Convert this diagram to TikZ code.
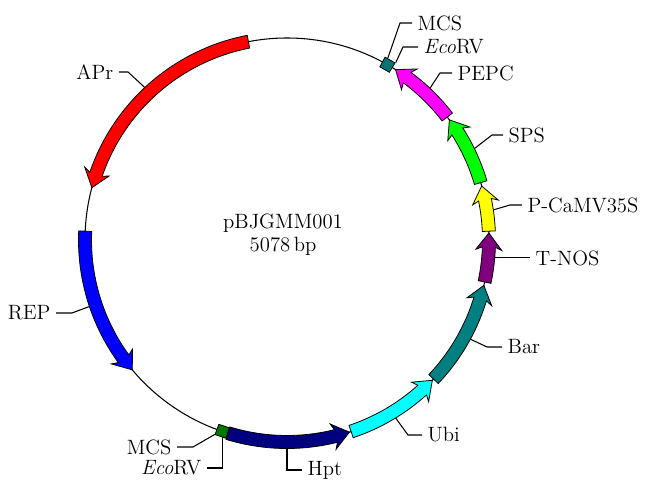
\documentclass[tikz,border=0pt]{standalone}
\usetikzlibrary{calc}

\definecolor{aprred}{RGB}{255,0,0}
\definecolor{repblue}{RGB}{0,0,255}
\definecolor{hptnavy}{RGB}{0,0,128}
\definecolor{ubicyan}{RGB}{0,255,255}
\definecolor{barteal}{RGB}{0,128,128}
\definecolor{nospurple}{RGB}{128,0,128}
\definecolor{camvyellow}{RGB}{255,255,0}
\definecolor{spsgreen}{RGB}{0,255,0}
\definecolor{pepcmagenta}{RGB}{255,0,255}
\definecolor{mcsteal}{RGB}{0,115,115}
\definecolor{mcsgreen}{RGB}{0,120,0}

% gene arrow on the ring: fill, start angle, tip angle
\newcommand{\genearrow}[3]{%
  \pgfmathsetmacro{\hbase}{#3>#2 ? #3-4 : #3+4}%
  \pgfmathsetmacro{\hbarb}{#3>#2 ? #3-4.8 : #3+4.8}%
  \draw[gene,fill=#1] (#2:208.5) arc[start angle=#2,end angle=\hbase,radius=208.5]
    -- (\hbarb:215) -- (#3:202) -- (\hbarb:189) -- (\hbase:195.5)
    arc[start angle=\hbase,end angle=#2,radius=195.5] -- cycle;}

% small site box on the ring: fill, angle
\newcommand{\sitebox}[2]{%
  \draw[gene,fill=#1] (#2-1.6:196.5) -- (#2+1.6:196.5) -- (#2+1.6:207.5)
    -- (#2-1.6:207.5) -- cycle;}

\begin{document}
\begin{tikzpicture}[x=0.02cm,y=0.02cm,
    gene/.style={draw=black,line width=0.45pt,line join=miter},
    leader/.style={draw=black,line width=0.6pt},
    every node/.style={font=\fontsize{11.8}{14}\selectfont,inner sep=3pt}]

      \useasboundingbox (0,0) rectangle (651,496);

      % Ring and genes
      \begin{scope}[shift={(287,256)}]
        \draw[line width=0.6pt] (0,0) circle[radius=202];
        \coordinate (ctr) at (0,0);

        \genearrow{aprred}{101}{165}
        \genearrow{repblue}{177.5}{220}
        \genearrow{hptnavy}{-107}{-72}
        \genearrow{ubicyan}{-71.5}{-44}
        \genearrow{barteal}{-43.5}{-13}
        \genearrow{nospurple}{-12}{2}
        \genearrow{camvyellow}{2.5}{15.5}
        \genearrow{spsgreen}{16.5}{36.5}
        \genearrow{pepcmagenta}{37.5}{57.5}
        \sitebox{mcsteal}{60.2}
        \sitebox{mcsgreen}{-108.7}

        % where the leaders start
        \coordinate (mcsApt) at (61:208);
        \coordinate (ecoApt) at (58.5:208);
        \coordinate (pepcpt) at (46.7:208.5);
        \coordinate (spspt) at (26:208.5);
        \coordinate (camvpt) at (8.3:208.5);
        \coordinate (nospt) at (-4.9:208.5);
        \coordinate (barpt) at (-28.4:208.5);
        \coordinate (ubipt) at (-58.6:208.5);
        \coordinate (hptpt) at (-90:208.5);
        \coordinate (mcsBpt) at (-110.4:207.5);
        \coordinate (ecoBpt) at (-108.2:207.5);
        \coordinate (reppt) at (198.6:208.5);
        \coordinate (aprpt) at (133:208.5);
      \end{scope}

      % Nodes
      \node (name) at (283,273) {pBJGMM001};
      \node (size) at (283,250) {5078\,bp};

      \begin{scope}[every node/.append style={anchor=west}]
        \node (mcsA) at (412,473) {MCS};
        \node (ecoA) at (418,449) {\textit{Eco}RV};
        \node (pepc) at (452,423) {PEPC};
        \node (sps) at (503,361) {SPS};
        \node (camv) at (522,291) {P-CaMV35S};
        \node (nos) at (530,238) {T-NOS};
        \node (bar) at (502,149) {Bar};
        \node (ubi) at (422,61) {Ubi};
        \node (hpt) at (302,26) {Hpt};
      \end{scope}
      \begin{scope}[every node/.append style={anchor=east}]
        \node (mcsB) at (177,49) {MCS};
        \node (ecoB) at (207,28) {\textit{Eco}RV};
        \node (rep) at (56,183) {REP};
        \node (apr) at (119,424) {APr};
      \end{scope}

      % Leaders
      \begin{scope}[every path/.style={leader}]
        \path (mcsApt) -- ($(mcsA.west)+(-12,0)$) -- (mcsA.west);
        \path (ecoApt) -- ($(ecoA.west)+(-15,0)$) -- (ecoA.west);
        \path (pepcpt) -- ($(pepc.west)+(-12,0)$) -- (pepc.west);
        \path (spspt) -- ($(sps.west)+(-11,0)$) -- (sps.west);
        \path (camvpt) -- ($(camv.west)+(-12,0)$) -- (camv.west);
        \path (nospt) -- (nospt -| nos.west);
        \path (barpt) -- ($(bar.west)+(-15,0)$) -- (bar.west);
        \path (ubipt) -- ($(ubi.west)+(-14,0)$) -- (ubi.west);
        \path (hptpt) -- (hptpt |- hpt.west) -- (hpt.west);
        \path (mcsBpt) -- ($(mcsB.east)+(16,0)$) -- (mcsB.east);
        \path (ecoBpt) -- (ecoBpt |- ecoB.east) -- (ecoB.east);
        \path (reppt) -- ($(rep.east)+(16,0)$) -- (rep.east);
        \path (aprpt) -- ($(apr.east)+(9,0)$) -- (apr.east);
      \end{scope}

    \end{tikzpicture}
\end{document}
